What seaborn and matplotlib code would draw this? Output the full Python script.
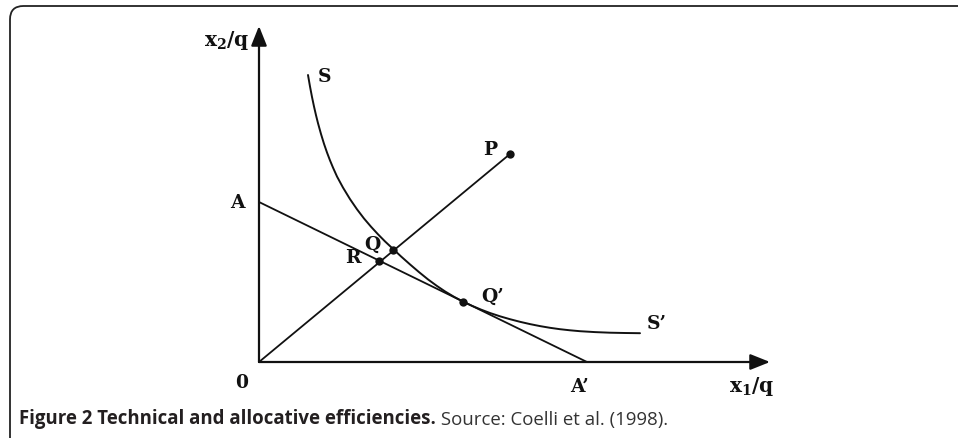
import numpy as np
import pandas as pd
import matplotlib
matplotlib.use("Agg")
import matplotlib.pyplot as plt
import seaborn as sns
from matplotlib.patches import FancyBboxPatch

# ---- data (in pixel-like units, origin at 0) ----
iso_x = [49, 51, 53, 55, 57, 59, 62, 65, 68, 71, 74, 78, 84, 91, 98, 105, 112, 119, 126, 134,
         142, 151, 160, 169, 178, 186, 195, 204, 213, 222, 231, 241, 251, 261, 271, 281, 291,
         301, 311, 321, 336, 351, 366, 381]
iso_y = [287, 275.5, 265, 255.5, 246.8, 238.8, 228, 218.2, 209.5, 201.6, 194.4, 185.5, 174.4,
         162.9, 152.7, 143.5, 135.3, 127.7, 120.6, 113.1, 105.6, 97.6, 89.9, 82.6, 76, 70.6,
         65.2, 60.4, 56.2, 52.4, 49, 45.7, 42.8, 40.2, 37.9, 35.9, 34.2, 32.8, 31.7, 30.8,
         29.9, 29.3, 29.0, 28.8]
budget_x = [0, 328]          # A -> A'
budget_y = [160, 0]
ray_x = [0, 251]             # 0 -> P
ray_y = [0, 208]
pts_name = ["P", "Q", "R", "Q'"]
pts_x = [251, 134, 120, 204]
pts_y = [208, 112, 101, 60]
axis_len_x = 511
axis_len_y = 336

W, H = 958, 439
OX, OY = 259, 363  # pixel position of the origin

sns.set_theme(style="white")
plt.rcParams["mathtext.fontset"] = "custom"
plt.rcParams["mathtext.bf"] = "DejaVu Serif:bold"
plt.rcParams["mathtext.rm"] = "DejaVu Serif"

fig = plt.figure(figsize=(W / 100, H / 100), dpi=100)
ax = fig.add_axes([0, 0, 1, 1])
ax.set_xlim(-OX, W - OX)
ax.set_ylim(OY - H, OY)
ax.axis("off")

lc = "#111111"
# axes with arrows
ax.annotate("", xy=(0, axis_len_y), xytext=(0, 0),
            arrowprops=dict(arrowstyle="-|>,head_length=1.0,head_width=0.4", lw=1.6, color=lc,
                            shrinkA=0, shrinkB=0))
ax.annotate("", xy=(axis_len_x, 0), xytext=(0, 0),
            arrowprops=dict(arrowstyle="-|>,head_length=1.0,head_width=0.4", lw=1.6, color=lc,
                            shrinkA=0, shrinkB=0))

df_iso = pd.DataFrame({"x": iso_x, "y": iso_y})
sns.lineplot(data=df_iso, x="x", y="y", ax=ax, sort=False, estimator=None,
             color=lc, lw=1.4, solid_joinstyle="round", solid_capstyle="round")
sns.lineplot(x=budget_x, y=budget_y, ax=ax, sort=False, estimator=None, color=lc, lw=1.3)
sns.lineplot(x=ray_x, y=ray_y, ax=ax, sort=False, estimator=None, color=lc, lw=1.3)
sns.scatterplot(x=pts_x, y=pts_y, ax=ax, color=lc, s=36, edgecolor=lc, linewidth=0, zorder=5)

lab_kw = dict(fontfamily="DejaVu Serif", fontweight="bold", fontsize=13.5, color=lc,
              ha="center", va="center")
labels = {
    "S": (66, 286), "P": (231, 213), "A": (-22, 160), "Q": (113, 118), "R": (94, 105),
    "Q\u2019": (234, 66), "S\u2019": (398, 39), "0": (-17, -20), "A\u2019": (321, -24),
}
for t, (x, y) in labels.items():
    ax.text(x, y, t, **lab_kw)
ax.text(-9, 322, r"$\mathbf{x_2/q}$", fontsize=14.5, color=lc, ha="right", va="center")
ax.text(493, -24, r"$\mathbf{x_1/q}$", fontsize=14.5, color=lc, ha="center", va="center")

# frame with rounded top-left corner
frame = FancyBboxPatch((10 / W, -0.2), 1.2, (H - 7) / H + 0.2,
                       boxstyle="round,pad=0,rounding_size=0.014",
                       transform=fig.transFigure, fill=False, edgecolor="#222222", lw=1.3,
                       mutation_aspect=W / H)
fig.patches.append(frame)

# caption
t1 = fig.text(19 / W, 1 - 424 / H, "Figure 2 Technical and allocative efficiencies.",
              fontfamily="Open Sans", fontweight="bold", fontsize=13.4, color="#231f20",
              ha="left", va="baseline")
ax.annotate(" Source: Coelli et al. (1998).", xy=(1, 0), xycoords=t1, va="bottom", ha="left",
            fontfamily="Open Sans", fontsize=13.4, color="#333333", annotation_clip=False)

fig.savefig("out.png", dpi=100)
